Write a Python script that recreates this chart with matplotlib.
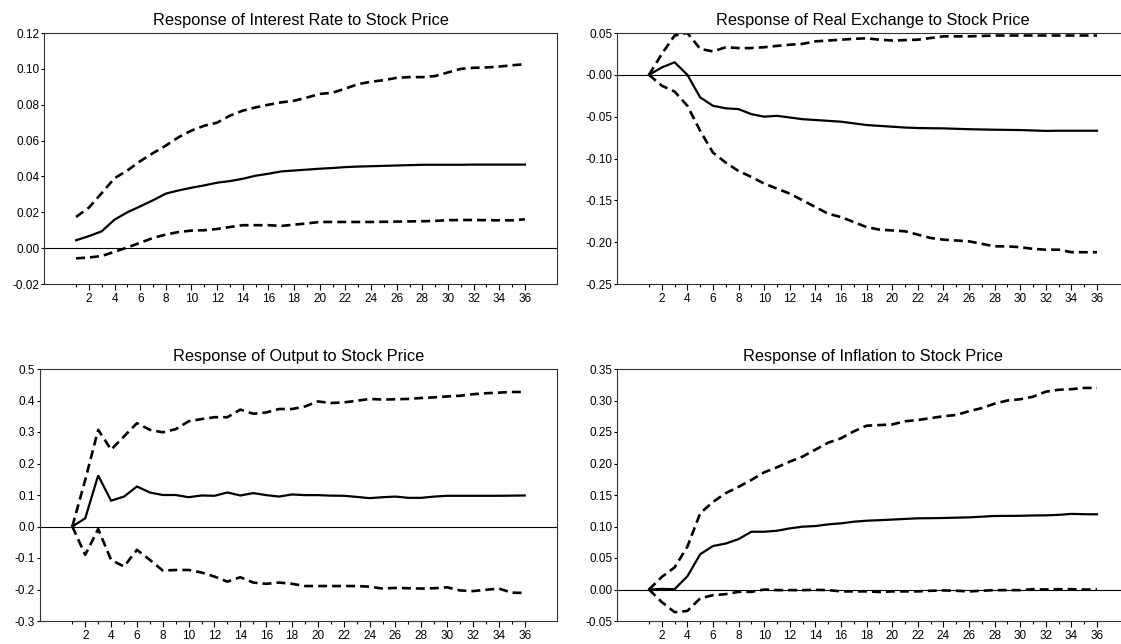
import matplotlib
matplotlib.use('Agg')
import matplotlib.pyplot as plt
from matplotlib.ticker import FixedLocator, FixedFormatter

plt.rcParams['font.family'] = ['Liberation Sans', 'DejaVu Sans']

periods = list(range(1, 37))

# Response of Interest Rate to Stock Price
ir_mid = [0.0044, 0.0067, 0.0094, 0.0159, 0.0200, 0.0233, 0.0267, 0.0304, 0.0322, 0.0337, 0.0350, 0.0365,
          0.0374, 0.0387, 0.0404, 0.0415, 0.0428, 0.0433, 0.0438, 0.0443, 0.0447, 0.0452, 0.0455, 0.0457,
          0.0459, 0.0461, 0.0463, 0.0465, 0.0465, 0.0465, 0.0465, 0.0466, 0.0466, 0.0466, 0.0466, 0.0466]
ir_up = [0.0174, 0.0226, 0.0307, 0.0390, 0.0433, 0.0485, 0.0530, 0.0572, 0.0619, 0.0656, 0.0683, 0.0700,
         0.0739, 0.0767, 0.0785, 0.0800, 0.0813, 0.0822, 0.0840, 0.0860, 0.0867, 0.0890, 0.0915, 0.0928,
         0.0937, 0.0950, 0.0954, 0.0954, 0.0960, 0.0980, 0.1000, 0.1006, 0.1008, 0.1013, 0.1020, 0.1026]
ir_lo = [-0.0057, -0.0052, -0.0044, -0.0020, 0.0004, 0.0030, 0.0057, 0.0076, 0.0090, 0.0098, 0.0100, 0.0107,
         0.0118, 0.0128, 0.0128, 0.0128, 0.0124, 0.0131, 0.0138, 0.0146, 0.0146, 0.0146, 0.0146, 0.0146,
         0.0147, 0.0148, 0.0149, 0.0150, 0.0152, 0.0156, 0.0157, 0.0157, 0.0156, 0.0155, 0.0155, 0.0161]

# Response of Real Exchange to Stock Price
rx_mid = [0.0, 0.0088, 0.015, 0.0, -0.027, -0.037, -0.040, -0.041, -0.047, -0.050, -0.049, -0.051,
          -0.053, -0.054, -0.055, -0.056, -0.058, -0.060, -0.061, -0.062, -0.063, -0.0636, -0.0638, -0.064,
          -0.0645, -0.065, -0.0653, -0.0656, -0.0658, -0.066, -0.0665, -0.067, -0.0668, -0.0668, -0.0668, -0.0668]
rx_up = [0.0, 0.025, 0.047, 0.050, 0.031, 0.028, 0.033, 0.032, 0.032, 0.033, 0.0346, 0.036,
         0.037, 0.040, 0.041, 0.042, 0.043, 0.0437, 0.042, 0.041, 0.0415, 0.042, 0.044, 0.046,
         0.046, 0.046, 0.0465, 0.047, 0.047, 0.047, 0.047, 0.047, 0.047, 0.047, 0.047, 0.047]
rx_lo = [0.0, -0.013, -0.020, -0.037, -0.067, -0.093, -0.105, -0.115, -0.122, -0.130, -0.136, -0.142,
         -0.150, -0.158, -0.166, -0.170, -0.176, -0.182, -0.185, -0.186, -0.187, -0.191, -0.195, -0.197,
         -0.198, -0.199, -0.202, -0.205, -0.205, -0.206, -0.208, -0.209, -0.209, -0.212, -0.212, -0.212]

# Response of Output to Stock Price
out_mid = [0.0, 0.026, 0.162, 0.082, 0.095, 0.127, 0.108, 0.100, 0.100, 0.093, 0.0985, 0.0975,
           0.108, 0.0985, 0.106, 0.0996, 0.095, 0.1017, 0.0996, 0.0996, 0.098, 0.0975, 0.094, 0.090,
           0.093, 0.095, 0.091, 0.091, 0.095, 0.0975, 0.0975, 0.0975, 0.0975, 0.0975, 0.098, 0.0985]
out_up = [0.0, 0.148, 0.307, 0.244, 0.286, 0.328, 0.307, 0.299, 0.309, 0.334, 0.341, 0.347,
          0.347, 0.371, 0.358, 0.362, 0.373, 0.373, 0.381, 0.397, 0.392, 0.394, 0.399, 0.405,
          0.403, 0.404, 0.405, 0.408, 0.410, 0.413, 0.415, 0.420, 0.423, 0.425, 0.427, 0.427]
out_lo = [0.0, -0.090, -0.008, -0.106, -0.127, -0.074, -0.106, -0.140, -0.138, -0.138, -0.146, -0.159,
          -0.175, -0.161, -0.178, -0.182, -0.178, -0.182, -0.189, -0.189, -0.189, -0.189, -0.189, -0.191,
          -0.197, -0.195, -0.196, -0.197, -0.196, -0.193, -0.203, -0.205, -0.201, -0.197, -0.210, -0.211]

# Response of Inflation to Stock Price
inf_mid = [0.0, 0.001, 0.0005, 0.021, 0.056, 0.069, 0.073, 0.080, 0.0917, 0.0917, 0.0933, 0.097,
           0.0997, 0.1007, 0.1034, 0.105, 0.1076, 0.1092, 0.110, 0.111, 0.112, 0.113, 0.1132, 0.1135,
           0.114, 0.1145, 0.1156, 0.1167, 0.1168, 0.117, 0.1175, 0.1177, 0.1185, 0.120, 0.1195, 0.1193]
inf_up = [0.0, 0.020, 0.035, 0.068, 0.121, 0.139, 0.153, 0.163, 0.174, 0.186, 0.194, 0.203,
          0.211, 0.222, 0.233, 0.240, 0.251, 0.260, 0.261, 0.262, 0.267, 0.269, 0.272, 0.275,
          0.277, 0.283, 0.288, 0.295, 0.300, 0.302, 0.306, 0.314, 0.317, 0.318, 0.320, 0.320]
inf_lo = [0.0, -0.020, -0.036, -0.034, -0.014, -0.009, -0.0074, -0.0037, -0.0037, 0.0, -0.001, -0.001,
          -0.001, -0.0005, -0.001, -0.003, -0.003, -0.003, -0.004, -0.003, -0.003, -0.003, -0.002, -0.0015,
          -0.002, -0.003, -0.002, -0.001, -0.001, -0.001, 0.0005, 0.0, 0.0005, 0.0005, 0.0, 0.0]

ir_ticks = [-0.02, 0.00, 0.02, 0.04, 0.06, 0.08, 0.10, 0.12]
ir_labels = ['-0.02', '0.00', '0.02', '0.04', '0.06', '0.08', '0.10', '0.12']
rx_ticks = [-0.25, -0.20, -0.15, -0.10, -0.05, 0.00, 0.05]
rx_labels = ['-0.25', '-0.20', '-0.15', '-0.10', '-0.05', '-0.00', '0.05']
out_ticks = [-0.3, -0.2, -0.1, 0.0, 0.1, 0.2, 0.3, 0.4, 0.5]
out_labels = ['-0.3', '-0.2', '-0.1', '0.0', '0.1', '0.2', '0.3', '0.4', '0.5']
inf_ticks = [-0.05, 0.00, 0.05, 0.10, 0.15, 0.20, 0.25, 0.30, 0.35]
inf_labels = ['-0.05', '0.00', '0.05', '0.10', '0.15', '0.20', '0.25', '0.30', '0.35']

W, H = 1121, 644
fig = plt.figure(figsize=(W / 100, H / 100), dpi=100)


def px_axes(left, right, top, bottom):
    return fig.add_axes([left / W, 1 - bottom / H, (right - left) / W, (bottom - top) / H])


def panel(ax, title, mid, up, lo, yticks, ylabels):
    ax.plot(periods, up, color='black', lw=1.9, dashes=(3.4, 1.9))
    ax.plot(periods, lo, color='black', lw=1.9, dashes=(3.4, 1.9))
    ax.plot(periods, mid, color='black', lw=1.6, solid_joinstyle='miter')
    ax.axhline(0, color='black', lw=0.8)
    ax.set_xlim(-1.5, 38.5)
    ax.set_ylim(yticks[0], yticks[-1])
    ax.yaxis.set_major_locator(FixedLocator(yticks))
    ax.yaxis.set_major_formatter(FixedFormatter(ylabels))
    ax.set_xticks(list(range(2, 37, 2)))
    ax.set_xticks(list(range(1, 36, 2)), minor=True)
    ax.tick_params(axis='x', which='major', direction='out', length=4.3, width=0.8, labelsize=8.5, pad=2)
    ax.tick_params(axis='x', which='minor', direction='out', length=2.2, width=0.8)
    ax.tick_params(axis='y', direction='out', length=2.5, width=0.8, labelsize=8.5, pad=1)
    for s in ax.spines.values():
        s.set_linewidth(0.8)
        s.set_color('#333333')
    ax.set_title(title, fontsize=11.8, pad=6)


ax1 = px_axes(44, 557, 33, 284)
panel(ax1, 'Response of Interest Rate to Stock Price', ir_mid, ir_up, ir_lo, ir_ticks, ir_labels)
ax2 = px_axes(617, 1129, 33, 284)
panel(ax2, 'Response of Real Exchange to Stock Price', rx_mid, rx_up, rx_lo, rx_ticks, rx_labels)
ax3 = px_axes(40, 557, 369, 621)
panel(ax3, 'Response of Output to Stock Price', out_mid, out_up, out_lo, out_ticks, out_labels)
ax4 = px_axes(617, 1129, 369, 621)
panel(ax4, 'Response of Inflation to Stock Price', inf_mid, inf_up, inf_lo, inf_ticks, inf_labels)

fig.savefig('out.png', dpi=100)
